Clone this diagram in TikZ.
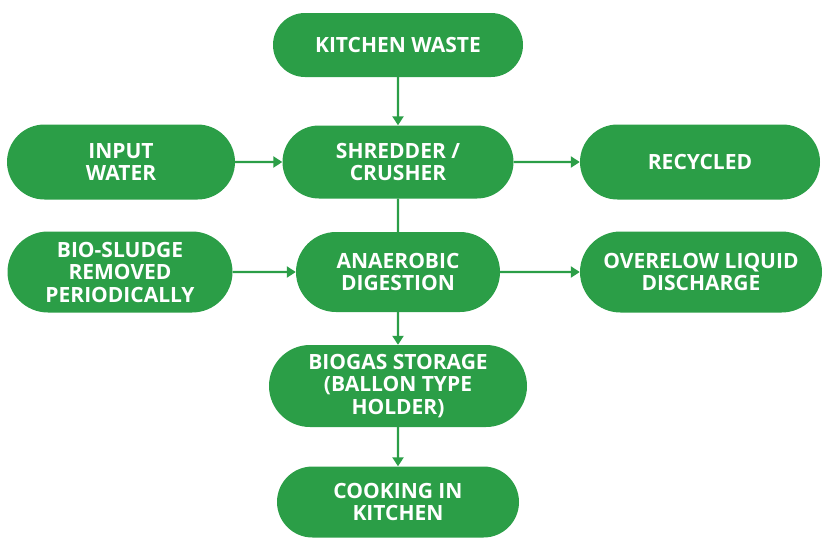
\documentclass[tikz,border=0pt]{standalone}
\usepackage{fontspec}
\setmainfont{Open Sans}
\usepackage{tikz}
\usetikzlibrary{arrows.meta, positioning, shapes.misc}
\definecolor{leaf}{RGB}{43,158,71}

\begin{document}
\begin{tikzpicture}[x=1pt, y=-1pt,
      stage/.style={rounded rectangle, fill=leaf, text=white, inner sep=0pt, align=center,
        font=\bfseries\fontsize{21}{22.5}\selectfont},
      arrow/.style={-{Triangle[length=9pt, width=11pt]}, line width=2.4pt, draw=leaf},
      link/.style={line width=2.4pt, draw=leaf}
      ]
    \useasboundingbox (0,0) rectangle (824,539);

    % Nodes
    \node[stage, minimum width=250pt, minimum height=64pt] (waste) at (398, 45) {KITCHEN WASTE};
    \node[stage, minimum width=231pt, minimum height=73pt] (shredder) at (398, 162) {SHREDDER /\\CRUSHER};
    \node[stage, minimum width=228pt, minimum height=75pt] (water) at (121, 162) {INPUT\\WATER};
    \node[stage, minimum width=240pt, minimum height=75pt] (recycled) at (700, 162) {RECYCLED};
    \node[stage, minimum width=204pt, minimum height=80pt] (digestion) at (398, 272) {ANAEROBIC\\DIGESTION};
    \node[stage, minimum width=225pt, minimum height=81pt] (sludge) at (120, 272) {BIO-SLUDGE\\REMOVED\\PERIODICALLY};
    \node[stage, minimum width=242pt, minimum height=81pt] (overflow) at (701, 272) {OVERELOW LIQUID\\DISCHARGE};
    \node[stage, minimum width=258pt, minimum height=82pt] (storage) at (398, 386) {BIOGAS STORAGE\\(BALLON TYPE\\HOLDER)};
    \node[stage, minimum width=242pt, minimum height=71pt] (cooking) at (398, 502) {COOKING IN\\KITCHEN};

    % Arrows
    \draw[arrow] (waste) -- (shredder);
    \draw[arrow] (water) -- (shredder);
    \draw[arrow] (shredder) -- (recycled);
    \draw[link] (shredder) -- (digestion);
    \draw[arrow] (sludge) -- (digestion);
    \draw[arrow] (digestion) -- (overflow);
    \draw[arrow] (digestion) -- (storage);
    \draw[arrow] (storage) -- (cooking);

\end{tikzpicture}
\end{document}
